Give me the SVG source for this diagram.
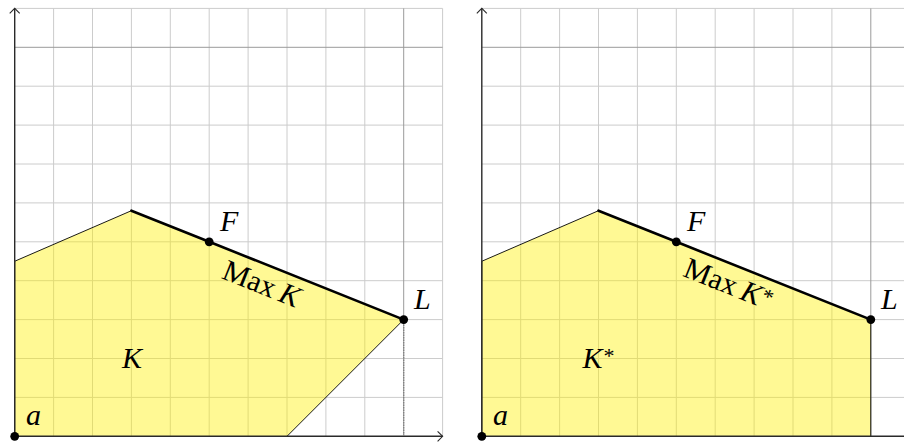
<svg xmlns="http://www.w3.org/2000/svg" width="904" height="443" viewBox="0 0 904 443">
<style>
.g{stroke:#cccccc;stroke-width:1;fill:none}
.gd{stroke:#9a9a9a;stroke-width:1;fill:none}
.ax{stroke:#2a2a2a;stroke-width:1.4;fill:none}
.fill{fill:#fff000;fill-opacity:0.42;stroke:none}
.thin{stroke:#000;stroke-width:0.9;fill:none}
.thick{stroke:#000;stroke-width:2.6;fill:none;stroke-linecap:round}
.dot{fill:#000}
</style>
<defs>
<marker id="arr" markerWidth="12" markerHeight="12" refX="0" refY="0" viewBox="-6 -6 12 12" orient="auto" markerUnits="userSpaceOnUse">
<path d="M -5 -5 Q -1.3 -1.3 0 0 Q -1.3 1.3 -5 5" stroke="#2a2a2a" stroke-width="1.1" fill="none"/>
</marker>
</defs>
<rect width="904" height="443" fill="#fff"/>

<g id="panel-left">
<g id="grid-left">
<path class="g" d="M53.6 8.4V436.3M92.5 8.4V436.3M131.4 8.4V436.3M170.3 8.4V436.3M209.2 8.4V436.3M248.1 8.4V436.3M287 8.4V436.3M325.9 8.4V436.3M364.8 8.4V436.3M442.6 8.4V436.3M14.7 8.4H442.6M14.7 86.2H442.6M14.7 125.1H442.6M14.7 164H442.6M14.7 202.9H442.6M14.7 241.8H442.6M14.7 280.7H442.6M14.7 319.6H442.6M14.7 358.5H442.6M14.7 397.4H442.6"/>
<path class="gd" d="M403.7 8.4V436.3M14.7 47.3H442.6"/>
</g>
<g id="region-K">
<polygon class="fill" points="14.7,436.3 14.7,261.25 131.4,210.7 209.2,241.8 403.7,319.6 287,436.3"/>
<polyline class="thin" points="14.7,436.3 14.7,261.25 131.4,210.7"/>
<polyline class="thin" points="403.7,319.6 287,436.3"/>
</g>
<g id="axes-left">
<line class="ax" x1="14.7" y1="436.3" x2="442.6" y2="436.3" marker-end="url(#arr)"/>
<line class="ax" x1="14.7" y1="436.3" x2="14.7" y2="8.4" marker-end="url(#arr)"/>
<line x1="403.7" y1="319.6" x2="403.7" y2="436.3" stroke="#808080" stroke-width="1.3" stroke-dasharray="1.5 1"/>
</g>
<g id="max-K">
<polyline class="thick" points="131.4,210.7 209.2,241.8 403.7,319.6"/>
</g>
<g font-family="Liberation Serif, Times New Roman, serif" font-size="30" fill="#000">
<g id="point-a"><circle class="dot" cx="14.7" cy="436.3" r="4.4"/><text font-style="italic" x="26" y="425">a</text></g>
<g id="point-F"><circle class="dot" cx="209.2" cy="241.8" r="4.4"/><text font-style="italic" x="220" y="231">F</text></g>
<g id="point-L"><circle class="dot" cx="403.7" cy="319.6" r="4.4"/><text font-style="italic" x="414" y="309">L</text></g>
<text font-style="italic" x="132" y="368" text-anchor="middle">K</text>
<text transform="translate(258 293) rotate(21.8)" text-anchor="middle">Max<tspan font-style="italic" dx="6">K</tspan></text>
</g>
</g>

<g id="panel-right">
<g id="grid-right">
<path class="g" d="M520.7 8.4V436.3M559.6 8.4V436.3M598.5 8.4V436.3M637.4 8.4V436.3M676.3 8.4V436.3M715.2 8.4V436.3M754.1 8.4V436.3M793 8.4V436.3M831.9 8.4V436.3M481.8 8.4H909.7M481.8 86.2H909.7M481.8 125.1H909.7M481.8 164H909.7M481.8 202.9H909.7M481.8 241.8H909.7M481.8 280.7H909.7M481.8 319.6H909.7M481.8 358.5H909.7M481.8 397.4H909.7"/>
<path class="gd" d="M870.8 8.4V436.3M481.8 47.3H909.7"/>
</g>
<g id="region-Kstar">
<polygon class="fill" points="481.8,436.3 481.8,261.25 598.5,210.7 676.3,241.8 870.8,319.6 870.8,436.3"/>
<polyline class="thin" points="481.8,436.3 481.8,261.25 598.5,210.7"/>
<polyline class="thin" points="870.8,319.6 870.8,436.3"/>
</g>
<g id="axes-right">
<line class="ax" x1="481.8" y1="436.3" x2="909.7" y2="436.3" marker-end="url(#arr)"/>
<line class="ax" x1="481.8" y1="436.3" x2="481.8" y2="8.4" marker-end="url(#arr)"/>
</g>
<g id="max-Kstar">
<polyline class="thick" points="598.5,210.7 676.3,241.8 870.8,319.6"/>
</g>
<g font-family="Liberation Serif, Times New Roman, serif" font-size="30" fill="#000">
<g id="point-a2"><circle class="dot" cx="481.8" cy="436.3" r="4.4"/><text font-style="italic" x="493" y="425">a</text></g>
<g id="point-F2"><circle class="dot" cx="676.3" cy="241.8" r="4.4"/><text font-style="italic" x="687" y="231">F</text></g>
<g id="point-L2"><circle class="dot" cx="870.8" cy="319.6" r="4.4"/><text font-style="italic" x="881" y="309">L</text></g>
<text x="598.5" y="368" text-anchor="middle"><tspan font-style="italic">K</tspan><tspan font-size="22" dx="1" dy="-5">*</tspan></text>
<text transform="translate(725 293) rotate(21.8)" text-anchor="middle">Max<tspan font-style="italic" dx="6">K</tspan><tspan font-size="22" dx="1" dy="-5">*</tspan></text>
</g>
</g>
</svg>
